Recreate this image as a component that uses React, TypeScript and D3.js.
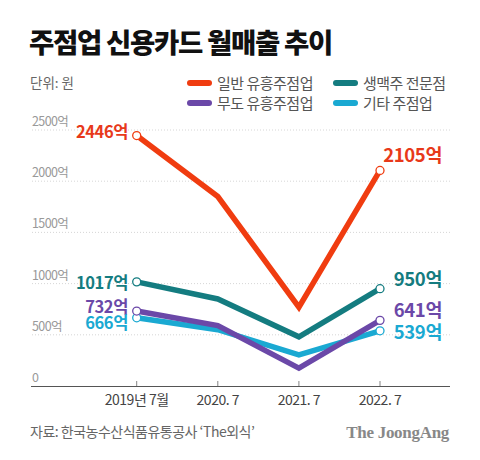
import React from "react";
import * as d3 from "d3";

const categories = ["2019년 7월", "2020. 7", "2021. 7", "2022. 7"];
const seriesNames = ["일반 유흥주점업", "생맥주 전문점", "무도 유흥주점업", "기타 주점업"];
const general = [2446, 1850, 770, 2105];
const beer = [1017, 850, 480, 950];
const dance = [732, 590, 175, 641];
const other = [666, 550, 305, 539];
const yTicks = [0, 500, 1000, 1500, 2000, 2500];
const colors = ["#F03C10", "#147C80", "#6B48A8", "#1AA9D2"];
const labelColors = ["#E8391A", "#147C80", "#6B48A8", "#1AA9D2"];

const FONT = "'Noto Sans CJK KR', 'Noto Sans', sans-serif";

export default function App() {
  const W = 480, H = 460;
  const x = d3.scalePoint<string>().domain(categories).range([136.7, 380]);
  const y = d3.scaleLinear().domain([0, 2500]).range([386, 130]);
  const line = d3.line<number>().x((_, i) => x(categories[i])!).y((d) => y(d));
  const all = [general, beer, dance, other];
  const drawOrder = [3, 2, 1, 0];
  const last = categories.length - 1;
  // label offsets (px) from point: text vertical center relative to point
  const leftDy = [-3.5, 1, -4.5, 5.5];
  const rightDy = [-15, -9, -9.5, 1.5];

  return (
    <svg width={W} height={H} style={{ position: "absolute", left: 0, top: 0, background: "#fff" }} fontFamily={FONT}>
      <rect width={W} height={H} fill="#fff" />
      <text x={29} y={53} fontSize={27.5} fontWeight={900} fill="#111" letterSpacing={-1.3}>주점업 신용카드 월매출 추이</text>
      <text x={30} y={88} fontSize={13.5} fill="#666">단위: 원</text>
      {seriesNames.map((n, i) => {
        const lx = i % 2 === 0 ? 187 : 333;
        const ly = i < 2 ? 83 : 103;
        return (
          <g key={n}>
            <line x1={lx + 3} x2={lx + 22} y1={ly} y2={ly} stroke={colors[i]} strokeWidth={6} strokeLinecap="round" />
            <text x={lx + 30} y={ly + 5.5} fontSize={15} fill="#555" letterSpacing={-0.5}>{n}</text>
          </g>
        );
      })}
      {yTicks.map((t) => (
        <g key={t}>
          {t > 0 && <line x1={32} x2={450} y1={y(t)} y2={y(t)} stroke="#ccc" strokeDasharray="1,2" strokeWidth={0.8} />}
          <text x={32} y={y(t) - 4} fontSize={12.5} fill="#999" letterSpacing={-0.6}>{t === 0 ? "0" : `${t}억`}</text>
        </g>
      ))}
      <line x1={31} x2={450} y1={386.5} y2={386.5} stroke="#555" strokeWidth={1.2} />
      {categories.map((c) => (
        <g key={c}>
          <line x1={x(c)} x2={x(c)} y1={381} y2={386} stroke="#666" strokeWidth={0.8} />
          <text x={x(c)} y={405} fontSize={14} fill="#444" textAnchor="middle" letterSpacing={-0.5}>{c}</text>
        </g>
      ))}
      {drawOrder.map((i) => (
        <path key={i} d={line(all[i])!} fill="none" stroke={colors[i]} strokeWidth={5.5} strokeLinejoin="miter" />
      ))}
      {drawOrder.map((i) => (
        <g key={"c" + i}>
          {[0, last].map((k) => (
            <circle key={k} cx={x(categories[k])} cy={y(all[i][k])} r={4} fill="#fff" stroke={colors[i]} strokeWidth={1.3} />
          ))}
        </g>
      ))}
      {all.map((s, i) => (
        <g key={"l" + i}>
          <text x={128} y={y(s[0]) + 6 + leftDy[i]} fontSize={16.5} fontWeight={700} fill={labelColors[i]} textAnchor="end" letterSpacing={-0.4}>{s[0]}억</text>
          <text x={442} y={y(s[last]) + 6.5 + rightDy[i]} fontSize={18.5} fontWeight={700} fill={labelColors[i]} textAnchor="end" letterSpacing={-0.4}>{s[last]}억</text>
        </g>
      ))}
      <text x={30} y={437} fontSize={14} fill="#666" letterSpacing={-0.5}>자료: 한국농수산식품유통공사 ‘The외식’</text>
      <text x={449} y={438} fontSize={17} fontWeight={700} fill="#888" textAnchor="end" fontFamily="'Liberation Serif', 'DejaVu Serif', serif" letterSpacing={-0.3}>The JoongAng</text>
    </svg>
  );
}
